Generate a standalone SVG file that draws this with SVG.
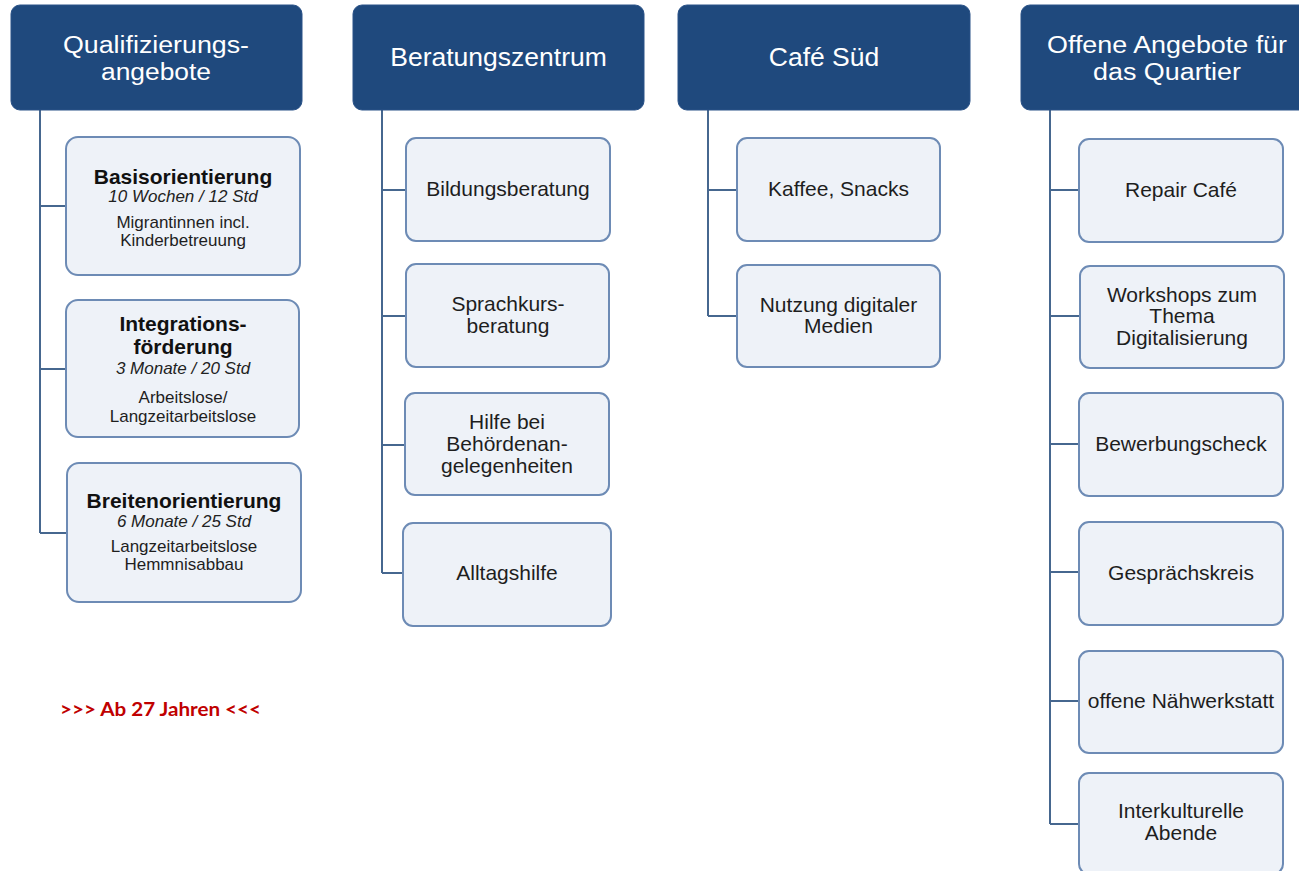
<svg xmlns="http://www.w3.org/2000/svg" width="1299" height="871" viewBox="0 0 1299 871">
<style>
.hdr{fill:#1f497d;stroke:#2a5288;stroke-width:1}
.ht{font-family:"Liberation Sans",Arial,sans-serif;font-size:26.5px;fill:#ffffff;text-anchor:middle}
.ht2{font-family:"Liberation Sans",Arial,sans-serif;font-size:23.5px;fill:#ffffff;text-anchor:middle}
.box{fill:#eef2f8;stroke:#6d8bb5;stroke-width:2}
.t{font-family:"Liberation Sans",Arial,sans-serif;font-size:21px;fill:#1e1e1e;text-anchor:middle}
.tb{font-family:"Liberation Sans",Arial,sans-serif;font-size:21px;font-weight:bold;fill:#111;text-anchor:middle}
.ti{font-family:"Liberation Sans",Arial,sans-serif;font-size:17px;font-style:italic;fill:#222;text-anchor:middle}
.ts{font-family:"Liberation Sans",Arial,sans-serif;font-size:17px;fill:#1e1e1e;text-anchor:middle}
.con{fill:none;stroke:#46678f;stroke-width:2}
</style>
<rect width="1299" height="871" fill="#ffffff"/>
<g id="connectors">
<path class="con" d="M40,110 V533 M40,206 H66 M40,369 H66 M40,533 H67"/>
<path class="con" d="M382,110 V573 M382,190 H406 M382,316 H406 M382,445 H405 M382,573 H403"/>
<path class="con" d="M708,110 V316 M708,190 H737 M708,316 H737"/>
<path class="con" d="M1050,110 V824 M1050,190 H1079 M1050,316 H1080 M1050,444 H1079 M1050,572 H1079 M1050,701 H1079 M1050,824 H1079"/>
</g>
<g id="h1"><rect class="hdr" x="11" y="5" width="291" height="105" rx="9"/><text class="ht2" x="156" y="53" textLength="186" lengthAdjust="spacingAndGlyphs">Qualifizierungs-</text><text class="ht2" x="156" y="80" textLength="110" lengthAdjust="spacingAndGlyphs">angebote</text></g>
<g id="h2"><rect class="hdr" x="353" y="5" width="291" height="105" rx="9"/><text class="ht" x="498.5" y="66">Beratungszentrum</text></g>
<g id="h3"><rect class="hdr" x="678" y="5" width="292" height="105" rx="9"/><text class="ht" x="824" y="66">Café Süd</text></g>
<g id="h4"><rect class="hdr" x="1021" y="5" width="291" height="105" rx="9"/><text class="ht2" x="1167" y="53" textLength="240" lengthAdjust="spacingAndGlyphs">Offene Angebote für</text><text class="ht2" x="1167" y="80" textLength="148" lengthAdjust="spacingAndGlyphs">das Quartier</text></g>

<g id="n-basis"><rect class="box" x="66" y="137" width="234" height="138" rx="12"/>
<text class="tb" x="183" y="184">Basisorientierung</text>
<text class="ti" x="183" y="202">10 Wochen / 12 Std</text>
<text class="ts" x="183" y="228">Migrantinnen incl.</text>
<text class="ts" x="183" y="246">Kinderbetreuung</text></g>
<g id="n-integration"><rect class="box" x="66" y="300" width="233" height="137" rx="12"/>
<text class="tb" x="183" y="331">Integrations-</text>
<text class="tb" x="183" y="354">förderung</text>
<text class="ti" x="183" y="374">3 Monate / 20 Std</text>
<text class="ts" x="183" y="403">Arbeitslose/</text>
<text class="ts" x="183" y="422">Langzeitarbeitslose</text></g>
<g id="n-breiten"><rect class="box" x="67" y="463" width="234" height="139" rx="12"/>
<text class="tb" x="184" y="508">Breitenorientierung</text>
<text class="ti" x="184" y="527">6 Monate / 25 Std</text>
<text class="ts" x="184" y="552">Langzeitarbeitslose</text>
<text class="ts" x="184" y="570">Hemmnisabbau</text></g>

<g id="n-bildung"><rect class="box" x="406" y="138" width="204" height="103" rx="10"/><text class="t" x="508" y="196">Bildungsberatung</text></g>
<g id="n-sprach"><rect class="box" x="406" y="264" width="203" height="103" rx="10"/><text class="t" x="508" y="311">Sprachkurs-</text><text class="t" x="508" y="333">beratung</text></g>
<g id="n-hilfe"><rect class="box" x="405" y="393" width="204" height="102" rx="10"/><text class="t" x="507" y="429">Hilfe bei</text><text class="t" x="507" y="451">Behördenan-</text><text class="t" x="507" y="473">gelegenheiten</text></g>
<g id="n-alltag"><rect class="box" x="403" y="523" width="208" height="103" rx="10"/><text class="t" x="507" y="580">Alltagshilfe</text></g>

<g id="n-kaffee"><rect class="box" x="737" y="138" width="203" height="103" rx="10"/><text class="t" x="838.5" y="196">Kaffee, Snacks</text></g>
<g id="n-nutzung"><rect class="box" x="737" y="265" width="203" height="102" rx="10"/><text class="t" x="838.5" y="312">Nutzung digitaler</text><text class="t" x="838.5" y="333">Medien</text></g>

<g id="n-repair"><rect class="box" x="1079" y="139" width="204" height="103" rx="10"/><text class="t" x="1181" y="197">Repair Café</text></g>
<g id="n-workshops"><rect class="box" x="1080" y="266" width="204" height="102" rx="10"/><text class="t" x="1182" y="302">Workshops zum</text><text class="t" x="1182" y="323">Thema</text><text class="t" x="1182" y="345">Digitalisierung</text></g>
<g id="n-bewerbung"><rect class="box" x="1079" y="393" width="204" height="103" rx="10"/><text class="t" x="1181" y="451">Bewerbungscheck</text></g>
<g id="n-gespraech"><rect class="box" x="1079" y="522" width="204" height="103" rx="10"/><text class="t" x="1181" y="580">Gesprächskreis</text></g>
<g id="n-naeh"><rect class="box" x="1079" y="651" width="204" height="102" rx="10"/><text class="t" x="1181" y="708">offene Nähwerkstatt</text></g>
<g id="n-interkult"><rect class="box" x="1079" y="773" width="204" height="101" rx="10"/><text class="t" x="1181" y="818">Interkulturelle</text><text class="t" x="1181" y="840">Abende</text></g>

<g id="note"><text x="60" y="716" textLength="201" lengthAdjust="spacingAndGlyphs" style="font-family:Lato,'Open Sans',sans-serif;font-weight:bold;font-size:19.5px;fill:#c00000">&gt;&gt;&gt; Ab 27 Jahren &lt;&lt;&lt;</text></g>
</svg>
